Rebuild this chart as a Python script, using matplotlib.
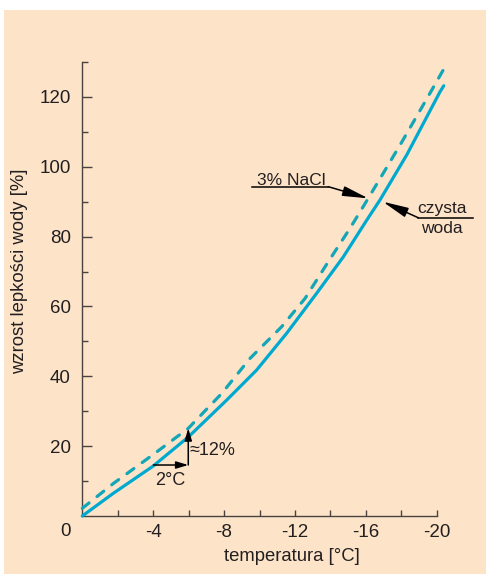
import numpy as np
import matplotlib.pyplot as plt
from matplotlib.patches import Rectangle

# wzrost lepkości: czysta woda (linia ciągła) i 3% NaCl (linia przerywana)
temp_water = [0, -1.75, -4.0, -6.0, -8.15, -9.84, -11.53, -13.23, -14.73,
              -16.05, -16.8, -18.31, -20.19, -20.4]
visc_water = [0, 6.5, 14.3, 22.7, 33.2, 41.8, 52.3, 63.8, 74.2,
              84.7, 90.5, 103.4, 121.5, 123.2]

temp_nacl = [0, -1.75, -4.0, -5.98, -7.87, -9.46, -11.25, -12.57, -13.88,
             -15.11, -16.14, -17.93, -19.24, -20.47]
visc_nacl = [2.2, 9.3, 17.6, 25.1, 35.1, 45.1, 54.2, 62.3, 72.8,
             82.4, 91.0, 106.2, 117.7, 128.6]

x_ticks = [-4, -8, -12, -16, -20]
y_ticks = [20, 40, 60, 80, 100, 120]

bg = '#fde4c9'
ink = '#231f20'
axis_col = '#4a4240'

plt.rcParams['font.family'] = ['Liberation Sans', 'DejaVu Sans']
plt.rcParams['font.size'] = 12

fig = plt.figure(figsize=(4.86, 5.74), dpi=100, facecolor='white')
fig.add_artist(Rectangle((4 / 486, 0), 1, 1 - 10 / 574, transform=fig.transFigure,
                         facecolor=bg, edgecolor='none', zorder=-10))

ax = fig.add_axes([82.3 / 486, 58 / 574, (436.7 - 82.3) / 486, (516 - 62) / 574])
ax.set_facecolor('none')

ax.plot(temp_water, visc_water, color='#00a9cf', lw=2.3, solid_capstyle='round',
        solid_joinstyle='round', clip_on=False, zorder=3)
ax.plot(temp_nacl, visc_nacl, color='#13a6b6', lw=2.3, dashes=(2.7, 3.2),
        dash_capstyle='round', dash_joinstyle='round', clip_on=False, zorder=3)

ax.set_xlim(0, -20)
ax.set_ylim(0, 130)

for s in ['top', 'right']:
    ax.spines[s].set_visible(False)
for s in ['left', 'bottom']:
    ax.spines[s].set_color(axis_col)
    ax.spines[s].set_linewidth(1.0)

ax.set_xticks(np.arange(-2, -21, -2), minor=True)
ax.set_xticks(x_ticks)
ax.set_xticklabels([str(t) for t in x_ticks])
ax.set_yticks(y_ticks)
ax.set_yticks(np.arange(10, 131, 20), minor=True)

ax.tick_params(axis='x', which='both', direction='in', length=4, width=1.0,
               color=axis_col, labelcolor=ink, pad=6, labelsize=13.5)
ax.tick_params(axis='y', which='major', direction='in', length=7.5, width=1.0,
               color=axis_col, labelcolor=ink, pad=8.4, labelsize=13.5)
ax.tick_params(axis='y', which='minor', direction='in', length=4.5, width=1.0,
               color=axis_col)

ax.text(65 / 486, 1 - 531.7 / 574, '0', transform=fig.transFigure, fontsize=13.5,
        color=ink, ha='center', va='center')
ax.text(20 / 486, 1 - 271 / 574, 'wzrost lepkości wody [%]', transform=fig.transFigure,
        fontsize=13.3, color=ink, rotation=90, ha='center', va='center')
ax.text(292 / 486, 1 - 556.7 / 574, 'temperatura [°C]', transform=fig.transFigure,
        fontsize=13.3, color=ink, ha='center', va='center')

# opisy krzywych ze strzałkami
arr = dict(arrowstyle='-|>,head_length=1.3,head_width=0.25', color='black', lw=1.1,
           shrinkA=0, shrinkB=0)
small = dict(arrowstyle='-|>,head_length=0.6,head_width=0.18', color='black', lw=1.1,
             shrinkA=0, shrinkB=0)

ax.plot([-9.56, -13.88], [94.3, 94.3], color='black', lw=1.1, clip_on=False)
ax.annotate('', xy=(-16.14, 90.95), xytext=(-13.88, 94.3), arrowprops=arr)
ax.text(-11.82, 96.2, '3% NaCl', ha='center', va='center', fontsize=12.5, color=ink)

ax.plot([-18.96, -22.07], [85.4, 85.4], color='black', lw=1.1, clip_on=False)
ax.annotate('', xy=(-16.96, 90.0), xytext=(-18.96, 85.4), arrowprops=arr,
            annotation_clip=False)
ax.text(-20.28, 88.1, 'czysta', ha='center', va='center', fontsize=12.5, color=ink,
        clip_on=False)
ax.text(-20.31, 82.4, 'woda', ha='center', va='center', fontsize=12.5, color=ink,
        clip_on=False)

ax.annotate('', xy=(-5.98, 14.6), xytext=(-4.01, 14.6), arrowprops=small)
ax.annotate('', xy=(-5.98, 25.1), xytext=(-5.98, 14.6), arrowprops=small)
ax.text(-7.35, 18.7, '≈12%', ha='center', va='center', fontsize=13, color=ink)
ax.text(-4.95, 10.3, '2°C', ha='center', va='center', fontsize=13, color=ink)

fig.savefig('out.png', dpi=100, facecolor=fig.get_facecolor())
